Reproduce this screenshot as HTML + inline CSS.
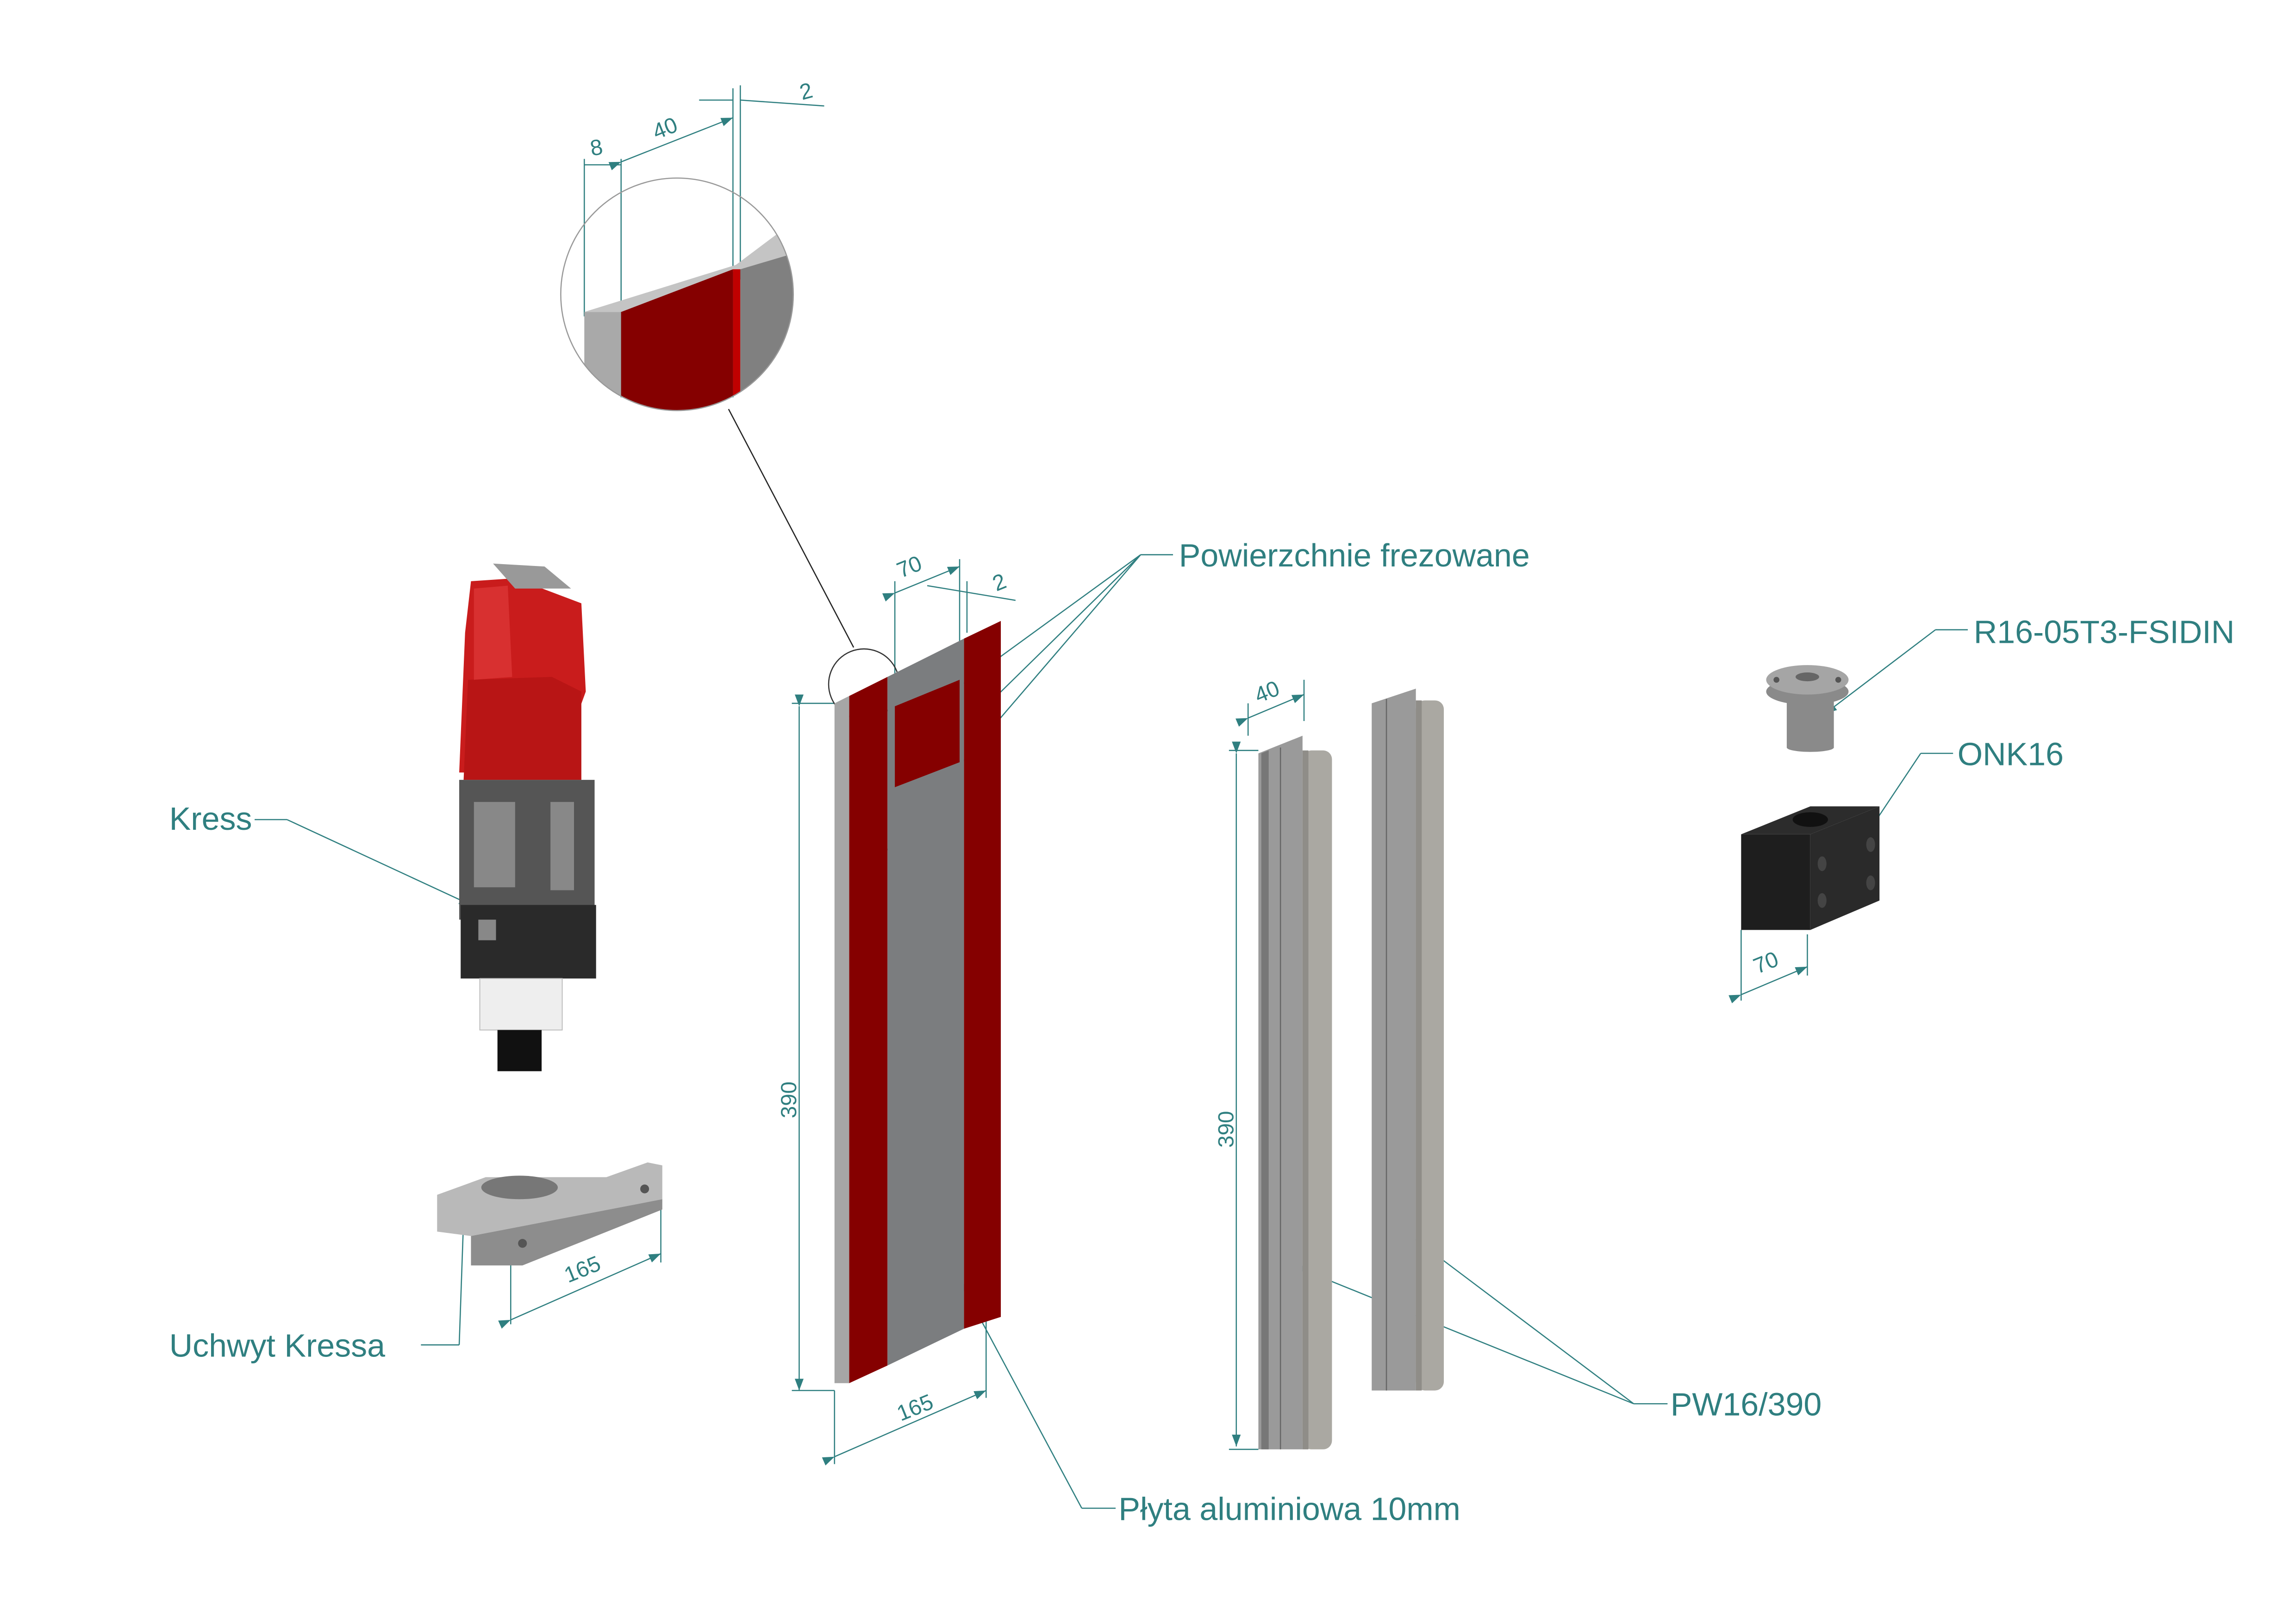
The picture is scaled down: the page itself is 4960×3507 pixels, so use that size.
<!DOCTYPE html>
<html><head><meta charset="utf-8"><style>
html,body{margin:0;padding:0;background:#fff;}
svg{display:block}
text{font-family:"Liberation Sans",sans-serif;fill:#2f7f80}
</style></head><body>
<svg width="4960" height="3507" viewBox="0 0 1560 1103" xmlns="http://www.w3.org/2000/svg">
<rect width="1560" height="1103" fill="#fff"/>
<defs>
<marker id="a" markerWidth="8" markerHeight="6" refX="8" refY="3" orient="auto" markerUnits="userSpaceOnUse"><path d="M0,0L8,3L0,6z" fill="#2f7f80"/></marker>
<clipPath id="c"><circle cx="460" cy="200" r="79"/></clipPath>
</defs>
<g stroke="#2f7f80" stroke-width="0.8" fill="none">
<line x1="397" y1="215" x2="397" y2="108"/><line x1="422" y1="270" x2="422" y2="108"/>
<line x1="498" y1="270" x2="498" y2="60"/><line x1="503" y1="190" x2="503" y2="58"/>
<line x1="397" y1="112" x2="422" y2="112"/>
<line x1="422" y1="110" x2="498" y2="80" marker-end="url(#a)" marker-start="url(#a)"/>
<line x1="503" y1="68" x2="560" y2="72"/><line x1="498" y1="68" x2="475" y2="68"/>
<line x1="608" y1="462" x2="608" y2="395"/><line x1="652" y1="440" x2="652" y2="380"/><line x1="657" y1="430" x2="657" y2="395"/>
<line x1="608" y1="403" x2="652" y2="385" marker-end="url(#a)" marker-start="url(#a)"/>
<line x1="630" y1="398" x2="690" y2="408"/>
<line x1="567" y1="478" x2="538" y2="478"/><line x1="567" y1="945" x2="538" y2="945"/>
<line x1="543" y1="480" x2="543" y2="945" marker-end="url(#a)" marker-start="url(#a)"/>
<line x1="567" y1="945" x2="567" y2="995"/><line x1="670" y1="895" x2="670" y2="950"/>
<line x1="567" y1="990" x2="670" y2="945" marker-end="url(#a)" marker-start="url(#a)"/>
<line x1="347" y1="855" x2="347" y2="900"/><line x1="449" y1="820" x2="449" y2="858"/>
<line x1="347" y1="897" x2="449" y2="852" marker-end="url(#a)" marker-start="url(#a)"/>
<line x1="855" y1="510" x2="835" y2="510"/><line x1="855" y1="985" x2="835" y2="985"/>
<line x1="840" y1="512" x2="840" y2="983" marker-end="url(#a)" marker-start="url(#a)"/>
<line x1="848" y1="500" x2="848" y2="478"/><line x1="886" y1="490" x2="886" y2="462"/>
<line x1="848" y1="488" x2="886" y2="472" marker-end="url(#a)" marker-start="url(#a)"/>
<line x1="1183" y1="632" x2="1183" y2="680"/><line x1="1228" y1="635" x2="1228" y2="663"/>
<line x1="1183" y1="676" x2="1228" y2="657" marker-end="url(#a)" marker-start="url(#a)"/>
<line x1="173" y1="557" x2="195" y2="557"/><line x1="195" y1="557" x2="320" y2="615" marker-end="url(#a)"/>
<line x1="286" y1="914" x2="312" y2="914"/><line x1="312" y1="914" x2="315" y2="828" marker-end="url(#a)"/>
<line x1="775" y1="377" x2="797" y2="377"/>
<line x1="775" y1="377" x2="610" y2="497" marker-end="url(#a)"/>
<line x1="775" y1="377" x2="672" y2="478" marker-end="url(#a)"/>
<line x1="775" y1="377" x2="587" y2="596" marker-end="url(#a)"/>
<line x1="735" y1="1025" x2="758" y2="1025"/><line x1="735" y1="1025" x2="652" y2="870" marker-end="url(#a)"/>
<line x1="1110" y1="954" x2="1133" y2="954"/>
<line x1="1110" y1="954" x2="878" y2="860" marker-end="url(#a)"/>
<line x1="1110" y1="954" x2="952" y2="835" marker-end="url(#a)"/>
<line x1="1315" y1="428" x2="1337" y2="428"/><line x1="1315" y1="428" x2="1240" y2="485" marker-end="url(#a)"/>
<line x1="1305" y1="512" x2="1327" y2="512"/><line x1="1305" y1="512" x2="1265" y2="572" marker-end="url(#a)"/>
</g>
<line x1="495" y1="278" x2="580" y2="440" stroke="#222" stroke-width="0.8"/>
<g clip-path="url(#c)">
<polygon points="397,212 500,180 540,150 540,175 503,183 422,212" fill="#c4c4c4"/>
<polygon points="397,212 422,212 422,290 397,290" fill="#a9a9a9"/>
<polygon points="422,212 498,183 498,290 422,290" fill="#850000"/>
<polygon points="503,183 540,172 540,290 503,290" fill="#808080"/>
<polygon points="498,183 503,183 503,290 498,290" fill="#c00000"/>
</g>
<circle cx="460" cy="200" r="79" fill="none" stroke="#999" stroke-width="0.8"/>
<circle cx="587" cy="465" r="24" fill="none" stroke="#333" stroke-width="0.8"/>
<polygon points="567,478 613,455 680,422 577,473" fill="#d0d0d0"/>
<polygon points="567,478 577,473 577,940 567,940" fill="#a6a6a6"/>
<polygon points="577,473 603,460 603,928 577,940" fill="#850000"/>
<polygon points="603,460 655,434 655,903 603,928" fill="#7b7d7f"/>
<polygon points="655,434 680,422 680,895 655,903" fill="#850000"/>
<polygon points="608,480 652,462 652,518 608,535" fill="#850000"/>
<!-- kress -->
<polygon points="320,395 350,393 395,410 398,470 378,525 312,525 316,430" fill="#c91c1c"/>
<polygon points="335,383 370,385 388,400 350,400" fill="#999"/>
<polygon points="318,462 375,460 395,470 395,530 315,530" fill="#b81515"/>
<polygon points="322,400 345,398 348,460 322,462" fill="#d83030"/>
<rect x="312" y="530" width="92" height="95" fill="#555"/>
<rect x="322" y="545" width="28" height="58" fill="#888"/>
<rect x="374" y="545" width="16" height="60" fill="#888"/>
<rect x="313" y="615" width="92" height="50" fill="#2a2a2a"/>
<rect x="325" y="625" width="12" height="14" fill="#888"/>
<rect x="326" y="665" width="56" height="35" fill="#eee" stroke="#bbb" stroke-width="0.6"/>
<rect x="338" y="700" width="30" height="28" fill="#111"/>
<!-- holder -->
<polygon points="297,812 330,800 412,800 440,790 450,792 450,815 320,840 297,837" fill="#b9b9b9"/>
<polygon points="320,840 450,815 450,822 355,860 320,860" fill="#8d8d8d"/>
<ellipse cx="353" cy="807" rx="26" ry="8" fill="#777"/>
<circle cx="355" cy="845" r="3" fill="#555"/><circle cx="438" cy="808" r="3" fill="#555"/>
<!-- rails -->
<polygon points="855,512 885,500 885,985 855,985" fill="#9a9a9a"/>
<polygon points="857,512 862,510 862,985 857,985" fill="#777"/>
<rect x="885" y="510" width="20" height="475" rx="6" fill="#aaa8a2"/>
<rect x="885" y="510" width="4" height="475" fill="#8f8d88"/>
<line x1="870" y1="508" x2="870" y2="985" stroke="#666" stroke-width="0.8"/>
<polygon points="932,478 962,468 962,945 932,945" fill="#9a9a9a"/>
<line x1="942" y1="475" x2="942" y2="945" stroke="#666" stroke-width="0.8"/>
<rect x="962" y="476" width="19" height="469" rx="6" fill="#aaa8a2"/>
<rect x="962" y="476" width="4" height="469" fill="#8f8d88"/>
<!-- nut -->
<ellipse cx="1228" cy="470" rx="28" ry="9" fill="#8a8a8a"/>
<ellipse cx="1228" cy="462" rx="28" ry="10" fill="#a5a5a5"/>
<ellipse cx="1228" cy="460" rx="8" ry="3" fill="#666"/>
<circle cx="1207" cy="462" r="2" fill="#555"/><circle cx="1249" cy="462" r="2" fill="#555"/>
<rect x="1214" y="474" width="32" height="34" fill="#8a8a8a"/>
<ellipse cx="1230" cy="508" rx="16" ry="3" fill="#8a8a8a"/>
<!-- block -->
<polygon points="1183,567 1230,548 1277,548 1230,567" fill="#2c2c2c"/>
<ellipse cx="1230" cy="557" rx="12" ry="5" fill="#111"/>
<rect x="1183" y="567" width="47" height="65" fill="#1e1e1e"/>
<polygon points="1230,567 1277,548 1277,612 1230,632" fill="#2a2a2a"/>
<g fill="#444"><ellipse cx="1238" cy="587" rx="3" ry="5"/><ellipse cx="1238" cy="612" rx="3" ry="5"/><ellipse cx="1271" cy="574" rx="3" ry="5"/><ellipse cx="1271" cy="600" rx="3" ry="5"/></g>
<g font-size="22">
<text x="115" y="564">Kress</text>
<text x="115" y="922">Uchwyt Kressa</text>
<text x="801" y="385">Powierzchnie frezowane</text>
<text x="760" y="1033">Płyta aluminiowa 10mm</text>
<text x="1135" y="962">PW16/390</text>
<text x="1341" y="437">R16-05T3-FSIDIN</text>
<text x="1330" y="520">ONK16</text>
</g>
<g font-size="15">
<text x="402" y="106" transform="rotate(-10 402 106)">8</text>
<text x="446" y="95" transform="rotate(-22 446 95)">40</text>
<text x="545" y="68" transform="rotate(-15 545 68)">2</text>
<text x="612" y="393" transform="rotate(-22 612 393)">70</text>
<text x="677" y="402" transform="rotate(-22 677 402)">2</text>
<text x="541" y="760" transform="rotate(-90 541 760)">390</text>
<text x="612" y="966" transform="rotate(-22 612 966)">165</text>
<text x="386" y="872" transform="rotate(-22 386 872)">165</text>
<text x="838" y="780" transform="rotate(-90 838 780)">390</text>
<text x="855" y="478" transform="rotate(-22 855 478)">40</text>
<text x="1194" y="662" transform="rotate(-22 1194 662)">70</text>
</g>
</svg>
</body></html>
